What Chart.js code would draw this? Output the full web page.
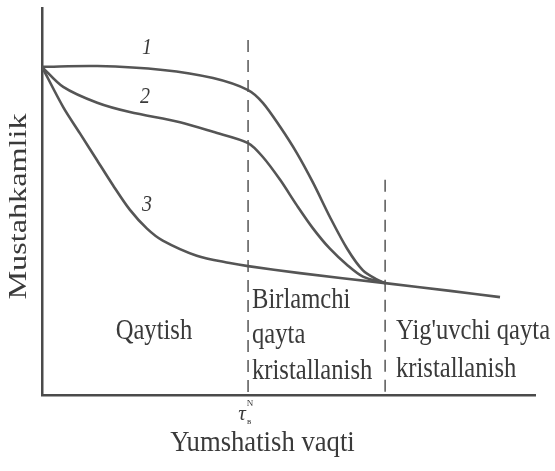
<!DOCTYPE html>
<html>
<head>
<meta charset="utf-8">
<script src="https://cdn.jsdelivr.net/npm/chart.js@4.4.0/dist/chart.umd.min.js"></script>
<style>
  html, body { margin: 0; padding: 0; background: #fff; }
  #wrap { width: 555px; height: 471px; }
</style>
</head>
<body>
<div id="wrap"><canvas id="softChart"></canvas></div>
<script>
// strength vs annealing time (time 0..100, strength 0..100)
const curve1 = [
  [0, 84.8], [11.2, 85.0], [24.5, 84.0], [34.7, 81.9], [41.8, 78.8], [44.8, 75.5],
  [48.3, 69.3], [51.7, 62.5], [55.0, 54.8], [58.4, 46.0], [61.9, 37.8],
  [65.1, 32.2], [68.0, 29.8], [69.6, 28.9]
];
const curve2 = [
  [0, 84.8], [4.3, 79.6], [11.2, 75.5], [17.8, 73.1], [28.0, 70.5], [34.7, 68.0],
  [41.8, 65.1], [44.8, 61.5], [48.3, 55.6], [51.7, 49.0], [55.0, 43.0],
  [58.4, 37.8], [61.9, 33.6], [65.1, 30.6], [69.6, 28.9]
];
const curve3 = [
  [0, 84.8], [4.3, 74.4], [7.7, 67.6], [11.2, 60.6], [14.4, 54.2], [17.8, 47.9],
  [21.3, 43.0], [24.5, 39.9], [31.4, 36.0], [38.1, 34.1], [41.8, 33.3],
  [52.3, 31.5], [69.6, 28.9], [82.8, 26.9], [92.9, 25.3]
];
// stage borders (dashed)
const border1 = [[41.8, 91.7], [41.8, 0]];
const border2 = [[69.6, 55.6], [69.6, 0]];

// curve numbers
const curveNumbers = [
  { text: '1', x: 21.3, y: 89.7 },
  { text: '2', x: 20.9, y: 77.0 },
  { text: '3', x: 21.3, y: 49.1 }
];
// stage captions
const stageText = [
  { text: 'Qaytish', x: 22.7, y: 16.3, align: 'center' },
  { text: 'Birlamchi', x: 42.6, y: 24.5, align: 'left' },
  { text: 'qayta', x: 42.6, y: 15.3, align: 'left' },
  { text: 'kristallanish', x: 42.6, y: 6.2, align: 'left' },
  { text: "Yig'uvchi qayta", x: 71.8, y: 16.3, align: 'left' },
  { text: 'kristallanish', x: 71.8, y: 6.7, align: 'left' }
];
const yTitle = 'Mustahkamlik';
const xTitle = 'Yumshatish vaqti';

function toXY(arr) {
  return arr.map(p => ({ x: p[0], y: p[1] }));
}

const curveStyle = {
  borderColor: '#555555',
  borderWidth: 2.6,
  pointRadius: 0,
  fill: false,
  showLine: true,
  tension: 0.3
};
const dashStyle = {
  borderColor: '#606060',
  borderWidth: 1.6,
  borderDash: [12, 8],
  pointRadius: 0,
  fill: false,
  showLine: true
};

// the scan is stretched vertically, so text is drawn stretched too
function stretchText(ctx, text, x, y, sx, sy) {
  ctx.save();
  ctx.translate(x, y);
  ctx.scale(sx, sy);
  ctx.fillText(text, 0, 0);
  ctx.restore();
}

const textPlugin = {
  id: 'textPlugin',
  afterDraw(chart) {
    const ctx = chart.ctx;
    const xs = chart.scales.x;
    const ys = chart.scales.y;
    ctx.save();
    ctx.fillStyle = '#3a3a3a';
    ctx.textBaseline = 'middle';

    ctx.font = 'italic 20px "Liberation Serif"';
    ctx.textAlign = 'center';
    curveNumbers.forEach(n => {
      stretchText(ctx, n.text, xs.getPixelForValue(n.x), ys.getPixelForValue(n.y), 1, 1.2);
    });

    ctx.font = '23px "Liberation Serif"';
    stageText.forEach(t => {
      ctx.textAlign = t.align;
      stretchText(ctx, t.text, xs.getPixelForValue(t.x), ys.getPixelForValue(t.y), 1.07, 1.25);
    });

    // tau mark under first border
    const tx = xs.getPixelForValue(border1[0][0]) - 6;
    const ty = ys.bottom + 19;
    ctx.textAlign = 'center';
    ctx.font = 'italic 21px "Liberation Serif"';
    ctx.fillText('τ', tx, ty);
    ctx.font = '9px "Liberation Serif"';
    ctx.fillText('в', tx + 7, ty + 8);
    ctx.fillText('N', tx + 8, ty - 10);

    // axis titles
    ctx.font = '23px "Liberation Serif"';
    stretchText(ctx, xTitle, (xs.left + xs.right) / 2 - 26, ys.bottom + 48, 1.16, 1.25);
    ctx.translate(xs.left - 22, (ys.top + ys.bottom) / 2 + 5);
    ctx.rotate(-Math.PI / 2);
    ctx.scale(1.4, 1.05);
    ctx.fillText(yTitle, 0, 0);
    ctx.restore();
  }
};

new Chart(document.getElementById('softChart'), {
  type: 'scatter',
  data: {
    datasets: [
      Object.assign({ data: toXY(curve1) }, curveStyle),
      Object.assign({ data: toXY(curve2) }, curveStyle),
      Object.assign({ data: toXY(curve3) }, curveStyle),
      Object.assign({ data: toXY(border1) }, dashStyle),
      Object.assign({ data: toXY(border2) }, dashStyle)
    ]
  },
  options: {
    responsive: true,
    maintainAspectRatio: false,
    animation: false,
    layout: { padding: { left: 34, right: 20, top: 8, bottom: 68 } },
    plugins: {
      legend: { display: false },
      tooltip: { enabled: false }
    },
    scales: {
      x: {
        type: 'linear', min: 0, max: 100,
        grid: { display: false },
        ticks: { display: false },
        border: { display: true, color: '#4a4a4a', width: 2.5 }
      },
      y: {
        type: 'linear', min: 0, max: 100,
        grid: { display: false },
        ticks: { display: false },
        border: { display: true, color: '#4a4a4a', width: 2.5 }
      }
    }
  },
  plugins: [textPlugin]
});
</script>
</body>
</html>
